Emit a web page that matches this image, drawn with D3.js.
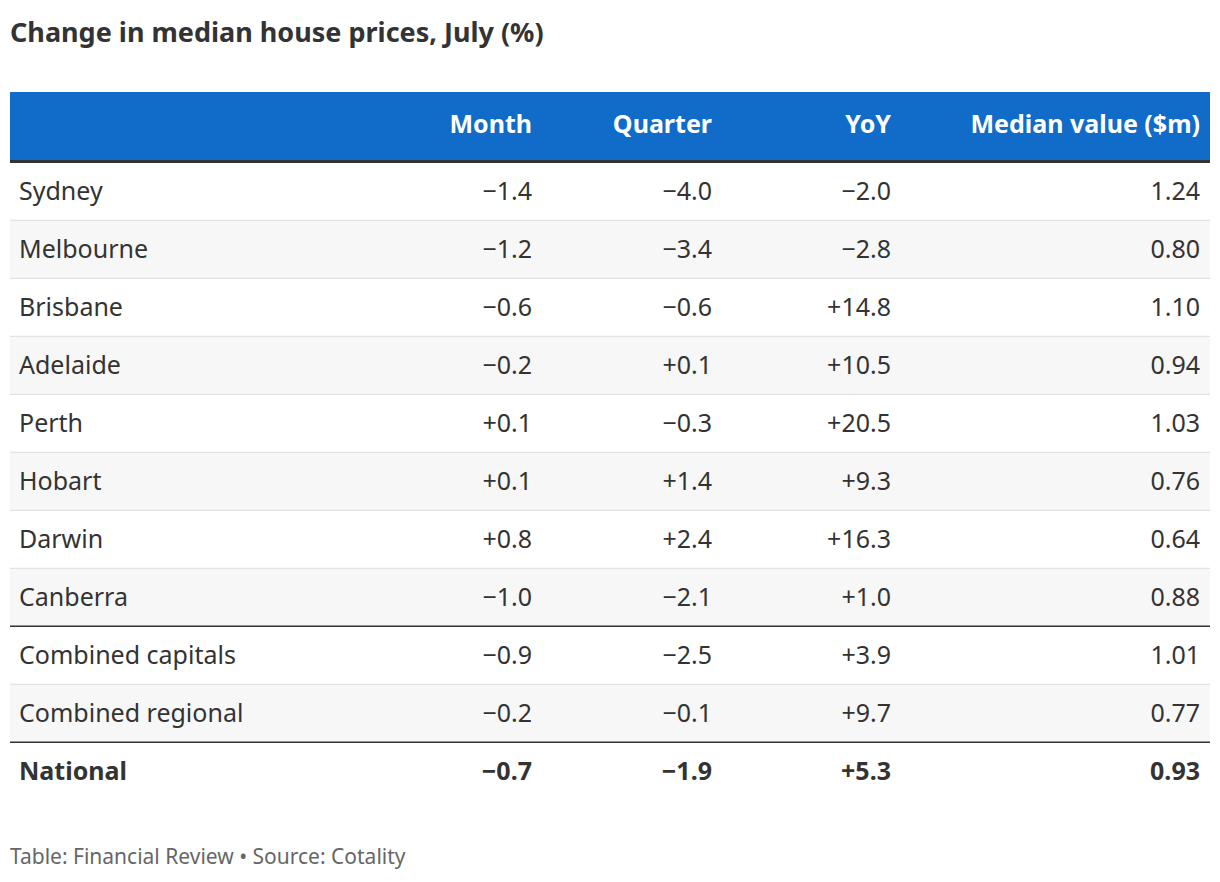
<!DOCTYPE html>
<html><head><meta charset="utf-8">
<script src="https://cdn.jsdelivr.net/npm/d3@7"></script>
<style>body{margin:0;background:#fff}</style>
</head><body><svg id="c" width="1220" height="882"></svg>
<script>
// Table data
var columns = ["Month", "Quarter", "YoY", "Median value ($m)"];
var regions = ["Sydney", "Melbourne", "Brisbane", "Adelaide", "Perth", "Hobart", "Darwin", "Canberra",
               "Combined capitals", "Combined regional", "National"];
var month = ["−1.4", "−1.2", "−0.6", "−0.2", "+0.1", "+0.1", "+0.8", "−1.0", "−0.9", "−0.2", "−0.7"];
var quarter = ["−4.0", "−3.4", "−0.6", "+0.1", "−0.3", "+1.4", "+2.4", "−2.1", "−2.5", "−0.1", "−1.9"];
var yoy = ["−2.0", "−2.8", "+14.8", "+10.5", "+20.5", "+9.3", "+16.3", "+1.0", "+3.9", "+9.7", "+5.3"];
var median = ["1.24", "0.80", "1.10", "0.94", "1.03", "0.76", "0.64", "0.88", "1.01", "0.77", "0.93"];

var svg = d3.select("#c");
var font = "'Noto Sans', sans-serif";
var left = 10, right = 1210, headTop = 92, headBottom = 160, rowTop = 163, rowH = 58;
var colRight = [532, 712, 891, 1200];
var y = d3.scaleBand().domain(d3.range(regions.length)).range([rowTop, rowTop + rowH * regions.length]);

svg.append("text").attr("x", 10).attr("y", 42).attr("font-family", font).attr("font-weight", 700)
  .attr("font-size", 27).attr("fill", "#333").text("Change in median house prices, July (%)");

// header
svg.append("rect").attr("x", left).attr("y", headTop).attr("width", right - left)
  .attr("height", headBottom - headTop).attr("fill", "#106cc8");
svg.selectAll(".hd").data(columns).join("text").attr("x", (d, i) => colRight[i]).attr("y", 133)
  .attr("text-anchor", "end").attr("font-family", font).attr("font-weight", 700).attr("font-size", 25)
  .attr("fill", "#fff").text(d => d);
svg.append("rect").attr("x", left).attr("y", headBottom).attr("width", right - left).attr("height", 3).attr("fill", "#333");

// rows
var rows = svg.selectAll(".row").data(regions).join("g").attr("transform", (d, i) => "translate(0," + y(i) + ")");
rows.append("rect").attr("x", left).attr("width", right - left).attr("height", rowH)
  .attr("fill", (d, i) => i % 2 ? "#f7f7f7" : "#fff");
rows.filter((d, i) => i < regions.length - 1).append("line")
  .attr("x1", left).attr("x2", right).attr("y1", rowH - 0.5).attr("y2", rowH - 0.5)
  .attr("stroke", (d, i) => (i === 7 || i === 9) ? "#333" : "#e3e3e3")
  .attr("stroke-width", (d, i) => (i === 7 || i === 9) ? 2 : 1.5);
rows.append("text").attr("x", 19).attr("y", 37).attr("font-family", font).attr("font-size", 25)
  .attr("fill", "#333").attr("font-weight", (d, i) => i === 10 ? 700 : 400).text(d => d);
[month, quarter, yoy, median].forEach(function (vals, c) {
  rows.append("text").attr("x", colRight[c]).attr("y", 37).attr("text-anchor", "end")
    .attr("font-family", font).attr("font-size", 25).attr("fill", "#333")
    .attr("font-weight", (d, i) => i === 10 ? 700 : 400).text((d, i) => vals[i]);
});

svg.append("text").attr("x", 10).attr("y", 864).attr("font-family", font).attr("font-size", 21)
  .attr("fill", "#666").text("Table: Financial Review • Source: Cotality");
</script></body></html>
